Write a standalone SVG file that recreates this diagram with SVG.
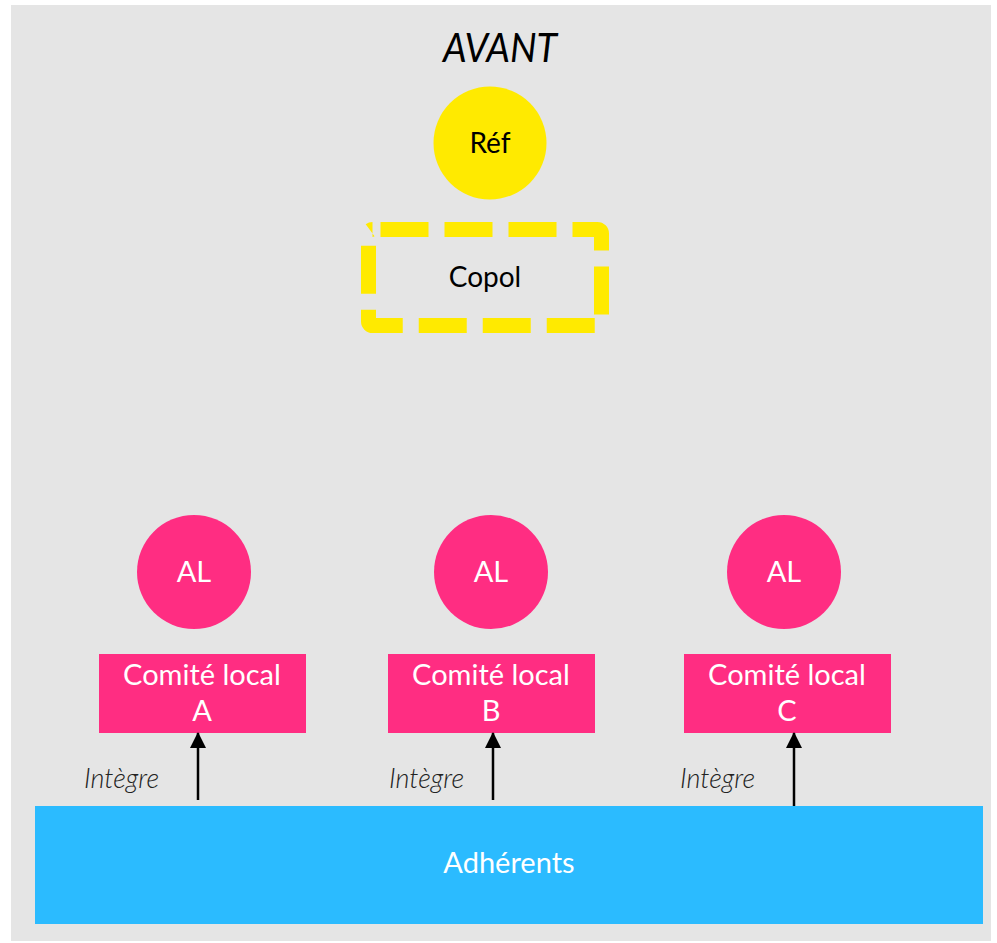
<svg xmlns="http://www.w3.org/2000/svg" width="997" height="943" viewBox="0 0 997 943">
<defs>
<style>
text{font-family:Lato,"Open Sans","Liberation Sans",sans-serif;}
.pink{fill:#FF2D82;}
.w{fill:#fff;font-size:29px;text-anchor:middle;}
.k{fill:#000;font-size:28px;text-anchor:middle;}
.lbl{fill:#222;font-size:27px;font-style:italic;font-weight:300;}
.arr{stroke:#000;stroke-width:2.5;fill:none;marker-end:url(#ah);}
</style>
<marker id="ah" viewBox="0 0 16 16" refX="15" refY="8" markerWidth="16" markerHeight="16" markerUnits="userSpaceOnUse" orient="auto">
<path d="M0,0 L16,8 L0,16 Z" fill="#000"/>
</marker>
</defs>
<rect x="0" y="0" width="997" height="943" fill="#fff"/>
<rect x="11" y="5" width="980" height="936" fill="#E5E5E5"/>
<text x="500" y="62" font-size="40" font-style="italic" text-anchor="middle" textLength="114" lengthAdjust="spacingAndGlyphs" fill="#000">AVANT</text>
<g id="ref">
<circle cx="490" cy="143" r="56.5" fill="#FFEA00"/>
<text class="k" x="490" y="153">Réf</text>
</g>
<g id="copol">
<rect x="368.5" y="229.5" width="233" height="96" rx="4" fill="none" stroke="#FFEA00" stroke-width="15" stroke-dasharray="48 16" stroke-dashoffset="-8"/>
<text class="k" x="485" y="287">Copol</text>
</g>
<g id="al-a"><circle class="pink" cx="194" cy="572" r="57"/><text class="w" x="194" y="582">AL</text></g>
<g id="al-b"><circle class="pink" cx="491" cy="572" r="57"/><text class="w" x="491" y="582">AL</text></g>
<g id="al-c"><circle class="pink" cx="784" cy="572" r="57"/><text class="w" x="784" y="582">AL</text></g>
<g id="cl-a"><rect class="pink" x="99" y="654" width="207" height="79"/><text class="w" x="202" y="685">Comité local</text><text class="w" x="202" y="721">A</text></g>
<g id="cl-b"><rect class="pink" x="388" y="654" width="207" height="79"/><text class="w" x="491" y="685">Comité local</text><text class="w" x="491" y="721">B</text></g>
<g id="cl-c"><rect class="pink" x="684" y="654" width="207" height="79"/><text class="w" x="787" y="685">Comité local</text><text class="w" x="787" y="721">C</text></g>
<g id="adherents"><rect x="35" y="806" width="948" height="118" fill="#2BBBFF"/><text class="w" x="509" y="873">Adhérents</text></g>
<g id="connectors">
<line class="arr" x1="198" y1="800" x2="198" y2="733"/>
<line class="arr" x1="493" y1="800" x2="493" y2="733"/>
<line class="arr" x1="794" y1="806" x2="794" y2="733"/>
<text class="lbl" x="84" y="788">Intègre</text>
<text class="lbl" x="389" y="788">Intègre</text>
<text class="lbl" x="680" y="788">Intègre</text>
</g>
</svg>
